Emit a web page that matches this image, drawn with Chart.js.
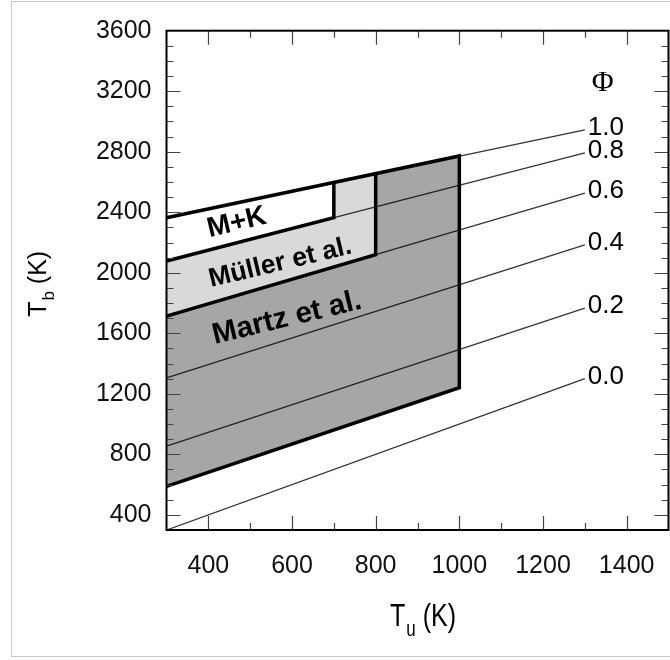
<!DOCTYPE html>
<html>
<head>
<meta charset="utf-8">
<script src="https://cdn.jsdelivr.net/npm/chart.js@4.4.1/dist/chart.umd.min.js"></script>
<style>
  html, body { margin: 0; padding: 0; background: #fff; }
  #wrap { position: relative; width: 670px; height: 660px; overflow: hidden; }
  #frame { position: absolute; left: 11px; top: 1px; width: 700px; height: 656px; border: 1px solid #c8c8c8; box-sizing: border-box; }
  #c { position: absolute; left: 0; top: 0; }
</style>
</head>
<body>
<div id="wrap">
  <div id="frame"></div>
  <canvas id="c" width="670" height="660"></canvas>
</div>
<script>
// ── Data ──
const tuTicks = [400, 600, 800, 1000, 1200, 1400];
const tbTicks = [400, 800, 1200, 1600, 2000, 2400, 2800, 3200, 3600];

// equivalence-ratio lines, T_b at T_u = 300 K and T_u = 1300 K
const phiNames = ['0.0', '0.2', '0.4', '0.6', '0.8', '1.0'];
const phiTu = [300, 1300];
const phiTbStart = [300, 855, 1305, 1714, 2078, 2364];
const phiTbEnd = [1300, 1767, 2184, 2527, 2792, 2944];

// operating ranges
const martzTu = [300, 1000, 1000, 300];
const martzTb = [588, 1240, 2772, 2364];
const mullerTu = [300, 800, 800, 300];
const mullerTb = [1714, 2120, 2654, 2364];
const mkTu = [300, 700, 700, 300];
const mkTb = [2078, 2364, 2596, 2364];

// range captions, anchored in data units
const regionNames = ['M+K', 'Müller et al.', 'Martz et al.'];
const regionTu = [468, 572, 588];
const regionTb = [2330, 2065, 1700];
const regionFont = [28, 26.5, 29.5];

const FONT = "Arial, 'Liberation Sans', sans-serif";
const SERIF = "'Times New Roman', 'Liberation Serif', serif";

const pts = (xs, ys, n) => xs.slice(0, n || xs.length).map((x, i) => ({ x, y: ys[i] }));

const fillSet = (xs, ys, color, order) => ({
  data: pts(xs, ys), showLine: true, fill: 'shape', backgroundColor: color,
  borderWidth: 0, borderColor: 'transparent', pointRadius: 0, order
});
const edgeSet = (xs, ys, n) => ({
  data: pts(xs, ys, n), showLine: true, fill: false, borderColor: '#000',
  borderWidth: 3.5, pointRadius: 0, borderJoinStyle: 'miter', order: 1
});

const phiSets = phiNames.map((name, i) => ({
  label: name,
  data: [{ x: phiTu[0], y: phiTbStart[i] }, { x: phiTu[1], y: phiTbEnd[i] }],
  showLine: true, fill: false, borderColor: 'rgba(0,0,0,0.8)', borderWidth: 1.3,
  pointRadius: 0, order: 5
}));

// ── Drawing helpers ──
const decor = {
  id: 'decor',
  beforeDatasetsDraw(chart) {
    // faint box behind the Martz caption
    const { ctx, scales: { x, y } } = chart;
    ctx.save();
    ctx.translate(x.getPixelForValue(regionTu[2]), y.getPixelForValue(regionTb[2]) - 10);
    ctx.rotate(-13.5 * Math.PI / 180);
    ctx.fillStyle = 'rgba(0,0,0,0.045)';
    ctx.fillRect(-105, -28, 210, 56);
    ctx.restore();
  },
  afterDatasetsDraw(chart) {
    const { ctx, chartArea: a, scales: { x, y } } = chart;
    ctx.save();

    // inward ticks on all four sides
    ctx.strokeStyle = '#444';
    ctx.lineWidth = 1.2;
    ctx.beginPath();
    for (let v = 400; v < 1500; v += 100) {
      const px = Math.round(x.getPixelForValue(v)) + 0.5;
      const len = v % 200 === 0 ? 14 : 7;
      ctx.moveTo(px, a.bottom); ctx.lineTo(px, a.bottom - len);
      ctx.moveTo(px, a.top); ctx.lineTo(px, a.top + len);
    }
    for (let v = 400; v < 3600; v += 100) {
      const py = Math.round(y.getPixelForValue(v)) + 0.5;
      const len = v % 400 === 0 ? 14 : 7;
      ctx.moveTo(a.left, py); ctx.lineTo(a.left + len, py);
      ctx.moveTo(a.right, py); ctx.lineTo(a.right - len, py);
    }
    ctx.stroke();

    // plot frame
    ctx.strokeStyle = '#000';
    ctx.lineWidth = 2;
    ctx.strokeRect(a.left, a.top, a.right - a.left, a.bottom - a.top);

    // captions of the ranges
    ctx.fillStyle = '#000';
    ctx.textAlign = 'center';
    ctx.textBaseline = 'middle';
    regionNames.forEach((name, i) => {
      ctx.save();
      ctx.translate(x.getPixelForValue(regionTu[i]), y.getPixelForValue(regionTb[i]));
      ctx.rotate(-13.5 * Math.PI / 180);
      ctx.font = `bold ${regionFont[i]}px ${FONT}`;
      ctx.fillText(name, 0, 0);
      ctx.restore();
    });

    // Φ labels at the line ends
    ctx.textAlign = 'left';
    ctx.font = `26px ${FONT}`;
    phiNames.forEach((name, i) => {
      ctx.fillText(name, x.getPixelForValue(phiTu[1]) + 3, y.getPixelForValue(phiTbEnd[i]) - 2);
    });
    ctx.font = `30px ${SERIF}`;
    ctx.textAlign = 'center';
    ctx.fillText('Φ', x.getPixelForValue(1343), y.getPixelForValue(3254));

    // axis titles with subscripts
    const title = (main, sub, rest, stretch) => {
      ctx.scale(1, stretch);
      ctx.font = `25px ${FONT}`;
      const w1 = ctx.measureText(main).width;
      const w3 = ctx.measureText(rest).width;
      ctx.font = `17px ${FONT}`;
      const w2 = ctx.measureText(sub).width;
      const cx = -(w1 + w2 + w3) / 2;
      ctx.textAlign = 'left';
      ctx.textBaseline = 'alphabetic';
      ctx.font = `25px ${FONT}`;
      ctx.fillText(main, cx, 0);
      ctx.font = `17px ${FONT}`;
      ctx.fillText(sub, cx + w1 + 1, 8);
      ctx.font = `25px ${FONT}`;
      ctx.fillText(rest, cx + w1 + w2 + 1, 0);
    };
    ctx.save();
    ctx.translate((a.left + a.right) / 2 + 5, 626);
    title('T', 'u', ' (K)', 1.25);
    ctx.restore();
    ctx.save();
    ctx.translate(46, (a.top + a.bottom) / 2 + 4);
    ctx.rotate(-Math.PI / 2);
    title('T', 'b', ' (K)', 1);
    ctx.restore();

    ctx.restore();
  }
};

new Chart(document.getElementById('c'), {
  type: 'scatter',
  data: {
    datasets: [
      edgeSet(martzTu, martzTb),
      edgeSet(mullerTu, mullerTb, 3),
      edgeSet(mkTu, mkTb, 3),
      ...phiSets,
      fillSet(mkTu, mkTb, '#ffffff', 8),
      fillSet(mullerTu, mullerTb, '#d9d9d9', 9),
      fillSet(martzTu, martzTb, '#a6a6a6', 10)
    ]
  },
  options: {
    responsive: false,
    animation: false,
    layout: { padding: { top: 30.7, right: 1.5, left: 0, bottom: 0 } },
    plugins: { legend: { display: false }, tooltip: { enabled: false } },
    scales: {
      x: {
        type: 'linear', min: 300, max: 1500,
        afterBuildTicks: s => { s.ticks = tuTicks.map(v => ({ value: v })); },
        afterFit: s => { s.height = 130; s.paddingLeft = 0; s.paddingRight = 0; },
        grid: { display: false, drawTicks: false },
        border: { display: false },
        ticks: { padding: 21, color: '#111', font: { family: FONT, size: 25 }, maxRotation: 0,
                 callback: v => String(v) }
      },
      y: {
        type: 'linear', min: 300, max: 3600,
        afterBuildTicks: s => { s.ticks = tbTicks.map(v => ({ value: v })); },
        afterFit: s => { s.width = 166.5; s.paddingTop = 0; s.paddingBottom = 0; },
        grid: { display: false, drawTicks: false },
        border: { display: false },
        ticks: { padding: 15, color: '#111', font: { family: FONT, size: 25 },
                 callback: v => String(v) }
      }
    }
  },
  plugins: [decor]
});
</script>
</body>
</html>
